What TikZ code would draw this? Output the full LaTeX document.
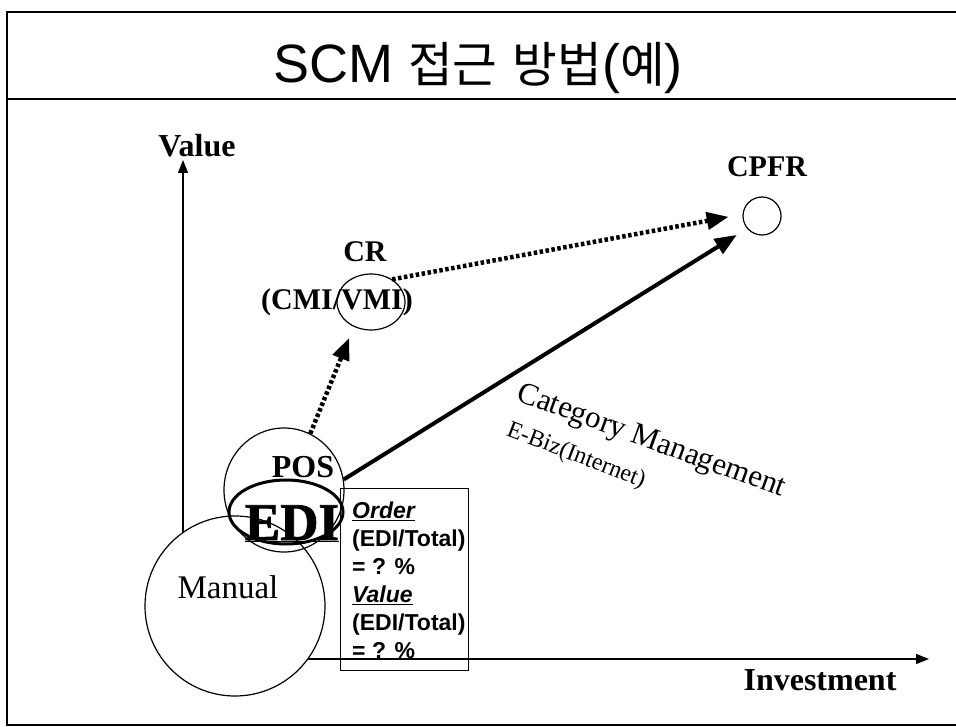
\documentclass[tikz,border=0pt]{standalone}
\usepackage{fontspec}
\setmainfont{Liberation Serif}
\newfontfamily\arialfont{Liberation Sans}
\newfontfamily\cjk[Scale=0.9]{Noto Sans CJK KR}
\newfontfamily\heavyserif[FakeBold=1.5]{Liberation Serif Bold}
\usetikzlibrary{arrows.meta,shapes.geometric}
\newcommand{\pts}[2]{\fontsize{#1}{#2}\selectfont}
\tikzset{
  lbl/.style={anchor=base, inner sep=0pt},
  ring/.style={draw, line width=1.2pt, inner sep=0pt},
  axis/.style={line width=1.3pt, -{Triangle[length=13pt,width=10pt]}},
  flow/.style={line width=4pt, -{Triangle[length=22pt,width=17pt]}},
  dotflow/.style={flow, line width=4.5pt, dash pattern=on 3.5pt off 2.5pt}
}
\begin{document}
\begin{tikzpicture}[x=1pt,y=-1pt]
\useasboundingbox (0,0) rectangle (956,727);
\draw[line width=2.8pt] (965,12) -- (7,12) -- (7,725) -- (965,725);
\draw[line width=2.8pt] (7,99) -- (965,99);
\node[lbl, font=\arialfont\pts{54}{60}] (title) at (478,83) {SCM {\cjk 접근} {\cjk 방법}({\cjk 예})};
\coordinate (orig) at (183,659);
\coordinate (ytop) at (183,160);
\coordinate (xend) at (929,659);
\draw[axis] (orig) -- (ytop);
\draw[axis] (orig) -- (xend);
\node[lbl, font=\bfseries\pts{32}{38}] (yname) at (197,157) {Value};
\node[lbl, font=\bfseries\pts{32}{38}] (xname) at (820,690) {Investment};
\node[ring, circle, minimum size=180pt, fill=white] (manualc) at (235,606) {};
\node[ring, ellipse, minimum width=120pt, minimum height=124pt] (pos) at (284,490) {};
\node[ring, ellipse, line width=3pt, minimum width=114pt, minimum height=64pt] (edi) at (286,512) {};
\node[ring, ellipse, minimum width=68pt, minimum height=56pt] (cr) at (371,302) {};
\node[ring, circle, minimum size=38pt] (cpfr) at (762,216) {};
\node[lbl, font=\pts{33}{40}] (manual) at (228,598) {Manual};
\node[lbl, font=\bfseries\pts{32}{38}] (posname) at (303,477) {POS};
\node[lbl, font=\heavyserif\pts{53}{60}] (ediname) at (292,540) {\underline{EDI}};
\node[lbl, font=\bfseries\pts{30}{36}] (crname) at (365,262) {CR};
\node[lbl, font=\bfseries\pts{30}{36}] (crsub) at (337,310) {(CMI/VMI)};
\node[lbl, font=\bfseries\pts{30}{36}] (cpfrname) at (767,177) {CPFR};
\node[draw, line width=1.2pt, minimum width=128pt, minimum height=182pt, anchor=north west] (ratiobox) at (340,488) {};
\node[anchor=north west, inner sep=0pt, align=left, font=\arialfont\bfseries\pts{23}{28}] (ratio) at (352,502) {\underline{\itshape Order}\\(EDI/Total)\\= ? \%\\\underline{\itshape Value}\\(EDI/Total)\\= ? \%};
\draw[dotflow, shorten >=12pt] (pos.65) -- (cr.235);
\draw[dotflow, shorten >=14pt] (cr.47) -- (cpfr.175);
\draw[flow, shorten >=12pt] (pos.10) -- (cpfr.220);
\node[rotate=-20, inner sep=0pt, font=\pts{31}{36}] (catg) at (651,442) {Category Management};
\node[rotate=-21, inner sep=0pt, font=\pts{24}{28}] (ebiz) at (576,456) {E-Biz(Internet)};
\end{tikzpicture}
\end{document}
